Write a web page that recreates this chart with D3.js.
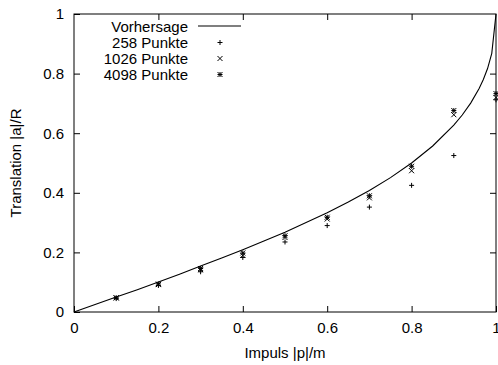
<!DOCTYPE html>
<html><head><meta charset="utf-8">
<script src="https://cdn.jsdelivr.net/npm/d3@7"></script>
<style>body{margin:0;background:#fff}svg{display:block}text{font-family:"Liberation Sans",Arial,sans-serif;font-size:15px;fill:#000}</style>
</head><body>
<script>
// Prediction curve
const predP = [0,0.05,0.1,0.15,0.2,0.25,0.3,0.35,0.4,0.45,0.5,0.55,0.6,0.65,0.7,0.75,0.8,0.85,0.9,0.92,0.94,0.96,0.97,0.98,0.99,1.0];
const predA = [0,0.025,0.050,0.075,0.101,0.127,0.154,0.181,0.209,0.238,0.268,0.300,0.333,0.369,0.408,0.451,0.500,0.557,0.627,0.661,0.701,0.750,0.780,0.817,0.868,1.0];
// Simulation points
const ptsP = [0.1,0.2,0.3,0.4,0.5,0.6,0.7,0.8,0.9,1.0];
const a258  = [0.045,0.089,0.135,0.183,0.235,0.290,0.352,0.425,0.525,0.712];
const a1026 = [0.047,0.092,0.142,0.190,0.250,0.312,0.383,0.474,0.662,0.720];
const a4098 = [0.048,0.094,0.146,0.198,0.256,0.318,0.390,0.489,0.676,0.733];
const xTicks = [0,0.2,0.4,0.6,0.8,1];
const yTicks = [0,0.2,0.4,0.6,0.8,1];
const legendLabels = ["Vorhersage","258 Punkte","1026 Punkte","4098 Punkte"];

const W=498,H=365, L=74,R=496,T=14,B=312;
const svg=d3.select("body").append("svg").attr("width",W).attr("height",H);
const x=d3.scaleLinear().domain([0,1]).range([L,R]);
const y=d3.scaleLinear().domain([0,1]).range([B,T]);

// axes with inward ticks
const fmt=d=>d===0?"0":d===1?"1":String(d);
const gx=svg.append("g").attr("transform",`translate(0,${B})`).call(d3.axisBottom(x).tickValues(xTicks).tickFormat(fmt).tickSize(-6).tickPadding(10));
const gy=svg.append("g").attr("transform",`translate(${L},0)`).call(d3.axisLeft(y).tickValues(yTicks).tickFormat(fmt).tickSize(-6).tickPadding(10));
const gxt=svg.append("g").attr("transform",`translate(0,${T})`).call(d3.axisTop(x).tickValues(xTicks.slice(1,-1)).tickFormat("").tickSize(-6));
const gyr=svg.append("g").attr("transform",`translate(${R},0)`).call(d3.axisRight(y).tickValues(yTicks.slice(1,-1)).tickFormat("").tickSize(-6));
[gx,gy,gxt,gyr].forEach(g=>{g.select(".domain").remove();g.selectAll("line").attr("stroke","#000");g.selectAll("text").attr("font-size",15).attr("font-family","Liberation Sans, Arial, sans-serif");});
svg.append("rect").attr("x",L).attr("y",T).attr("width",R-L).attr("height",B-T).attr("fill","none").attr("stroke","#000").attr("stroke-width",1);

// labels
svg.append("text").attr("x",(L+R)/2).attr("y",358).attr("text-anchor","middle").text("Impuls |p|/m");
svg.append("text").attr("transform",`translate(21,${(T+B)/2}) rotate(-90)`).attr("text-anchor","middle").text("Translation |a|/R");

// prediction curve
const line=d3.line().x((d,i)=>x(predP[i])).y(d=>y(d));
svg.append("path").attr("d",line(predA)).attr("fill","none").attr("stroke","#000").attr("stroke-width",1.1);

// markers
const s=2.5;
function plus(g,cx,cy){g.append("path").attr("d",`M${cx-s},${cy}H${cx+s}M${cx},${cy-s}V${cy+s}`).attr("stroke","#000").attr("stroke-width",1).attr("fill","none");}
function cross(g,cx,cy){g.append("path").attr("d",`M${cx-s},${cy-s}L${cx+s},${cy+s}M${cx-s},${cy+s}L${cx+s},${cy-s}`).attr("stroke","#000").attr("stroke-width",1).attr("fill","none");}
function star(g,cx,cy){plus(g,cx,cy);cross(g,cx,cy);}
const gp=svg.append("g");
ptsP.forEach((p,i)=>{plus(gp,x(p),y(a258[i]));cross(gp,x(p),y(a1026[i]));star(gp,x(p),y(a4098[i]));});

// legend
const lb=[32,48,64,80];
legendLabels.forEach((t,i)=>{svg.append("text").attr("x",188).attr("y",lb[i]).attr("text-anchor","end").text(t);});
svg.append("line").attr("x1",198).attr("x2",241).attr("y1",lb[0]-6).attr("y2",lb[0]-6).attr("stroke","#000").attr("stroke-width",1.1);
plus(svg,220,lb[1]-5.5);cross(svg,220,lb[2]-5.5);star(svg,220,lb[3]-5.5);
</script>
</body></html>
